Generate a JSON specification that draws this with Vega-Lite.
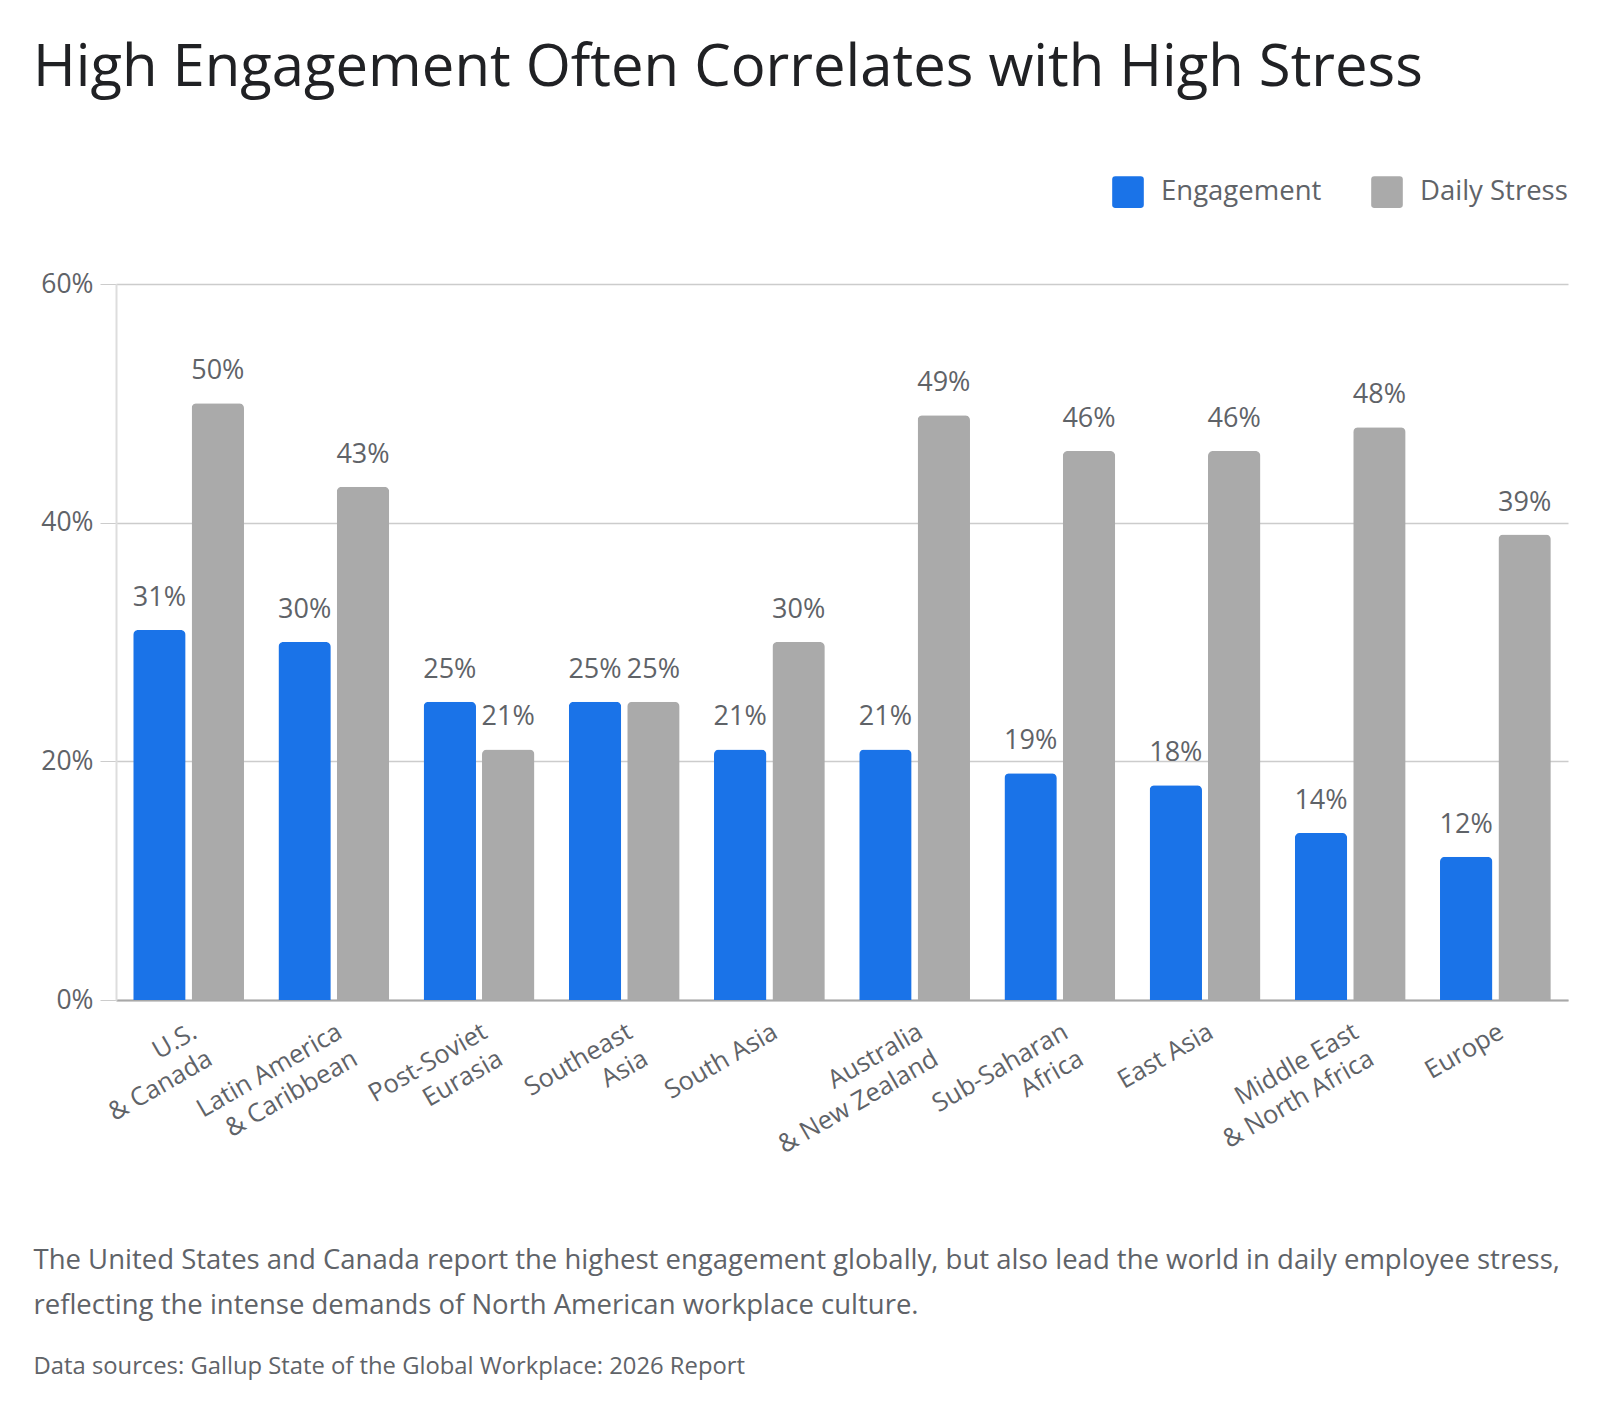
{
  "$schema": "https://vega.github.io/schema/vega-lite/v6.json",
  "width": 1452,
  "height": 716,
  "autosize": "none",
  "padding": {"left": 116, "top": 284, "right": 32, "bottom": 414},
  "background": "#ffffff",
  "config": {
    "font": "Open Sans",
    "view": {"stroke": null},
    "axis": {"labelFont": "Open Sans", "titleFont": "Open Sans"}
  },
  "title": {
    "text": "High Engagement Often Correlates with High Stress",
    "anchor": "start",
    "frame": "group",
    "orient": "top",
    "font": "Open Sans",
    "fontSize": 58,
    "fontWeight": 400,
    "color": "#202124",
    "baseline": "alphabetic",
    "dx": -83,
    "offset": 32
  },
  "data": {
    "values": [
      {"region": "U.S.\n& Canada", "metric": "Engagement", "value": 0.31},
      {"region": "U.S.\n& Canada", "metric": "Daily Stress", "value": 0.50},
      {"region": "Latin America\n& Caribbean", "metric": "Engagement", "value": 0.30},
      {"region": "Latin America\n& Caribbean", "metric": "Daily Stress", "value": 0.43},
      {"region": "Post-Soviet\nEurasia", "metric": "Engagement", "value": 0.25},
      {"region": "Post-Soviet\nEurasia", "metric": "Daily Stress", "value": 0.21},
      {"region": "Southeast\nAsia", "metric": "Engagement", "value": 0.25},
      {"region": "Southeast\nAsia", "metric": "Daily Stress", "value": 0.25},
      {"region": "South Asia", "metric": "Engagement", "value": 0.21},
      {"region": "South Asia", "metric": "Daily Stress", "value": 0.30},
      {"region": "Australia\n& New Zealand", "metric": "Engagement", "value": 0.21},
      {"region": "Australia\n& New Zealand", "metric": "Daily Stress", "value": 0.49},
      {"region": "Sub-Saharan\nAfrica", "metric": "Engagement", "value": 0.19},
      {"region": "Sub-Saharan\nAfrica", "metric": "Daily Stress", "value": 0.46},
      {"region": "East Asia", "metric": "Engagement", "value": 0.18},
      {"region": "East Asia", "metric": "Daily Stress", "value": 0.46},
      {"region": "Middle East\n& North Africa", "metric": "Engagement", "value": 0.14},
      {"region": "Middle East\n& North Africa", "metric": "Daily Stress", "value": 0.48},
      {"region": "Europe", "metric": "Engagement", "value": 0.12},
      {"region": "Europe", "metric": "Daily Stress", "value": 0.39}
    ]
  },
  "encoding": {
    "x": {
      "field": "region",
      "type": "nominal",
      "sort": null,
      "scale": {"paddingInner": 0.237, "paddingOuter": 0.1185},
      "axis": {
        "title": [
          "The United States and Canada report the highest engagement globally, but also lead the world in daily employee stress,",
          "reflecting the intense demands of North American workplace culture."
        ],
        "titleFont": "Open Sans",
        "titleFontSize": 27.5,
        "titleFontWeight": 400,
        "titleColor": "#5f6368",
        "titleAlign": "left",
        "titleAnchor": "start",
        "titleBaseline": "alphabetic",
        "titleLineHeight": 45,
        "titleX": -83,
        "titleY": 268,
        "labelExpr": "split(datum.label, '\\n')",
        "labelAngle": -30,
        "labelAlign": "right",
        "labelBaseline": "top",
        "labelFontSize": 25.5,
        "labelColor": "#5f6368",
        "labelLineHeight": 31,
        "labelPadding": 19,
        "labelOverlap": false,
        "labelLimit": 0,
        "ticks": false,
        "domainColor": "#a8a8a8",
        "domainWidth": 2,
        "grid": false
      }
    },
    "xOffset": {
      "field": "metric",
      "type": "nominal",
      "sort": ["Engagement", "Daily Stress"],
      "scale": {"paddingInner": 0.103, "paddingOuter": 0}
    },
    "y": {
      "field": "value",
      "type": "quantitative",
      "scale": {"domain": [0, 0.6], "nice": false},
      "axis": {
        "values": [0, 0.2, 0.4, 0.6],
        "format": ".0%",
        "title": "Data sources: Gallup State of the Global Workplace: 2026 Report",
        "titleAngle": 0,
        "titleFont": "Open Sans",
        "titleFontSize": 23.8,
        "titleFontWeight": 400,
        "titleColor": "#5f6368",
        "titleAlign": "left",
        "titleAnchor": "start",
        "titleBaseline": "alphabetic",
        "titleX": -83,
        "titleY": 1089,
        "labelFontSize": 26.5,
        "labelColor": "#5f6368",
        "labelPadding": 7,
        "tickSize": 16,
        "tickColor": "#cccccc",
        "grid": true,
        "gridColor": "#cccccc",
        "gridWidth": 1.5,
        "domainColor": "#dddddd",
        "domainWidth": 2
      }
    },
    "color": {
      "field": "metric",
      "type": "nominal",
      "sort": ["Engagement", "Daily Stress"],
      "scale": {"domain": ["Engagement", "Daily Stress"], "range": ["#1a73e8", "#aaaaaa"]},
      "legend": {
        "title": null,
        "orient": "none",
        "direction": "horizontal",
        "legendX": 996,
        "legendY": -108,
        "padding": 0,
        "symbolType": "M-0.8,-1H0.8Q1,-1 1,-0.8V0.8Q1,1 0.8,1H-0.8Q-1,1 -1,0.8V-0.8Q-1,-1 -0.8,-1Z",
        "symbolSize": 1000,
        "symbolStrokeWidth": 0,
        "symbolOpacity": 1,
        "labelFont": "Open Sans",
        "labelFontSize": 27.5,
        "labelColor": "#5f6368",
        "labelOffset": 17,
        "labelLimit": 0,
        "columnPadding": 49
      }
    }
  },
  "layer": [
    {
      "mark": {"type": "bar", "cornerRadiusTopLeft": 5, "cornerRadiusTopRight": 5}
    },
    {
      "mark": {"type": "text", "baseline": "alphabetic", "dy": -24, "fontSize": 27, "font": "Open Sans"},
      "encoding": {
        "text": {"field": "value", "type": "quantitative", "format": ".0%"},
        "color": {"value": "#5f6368"}
      }
    }
  ]
}
